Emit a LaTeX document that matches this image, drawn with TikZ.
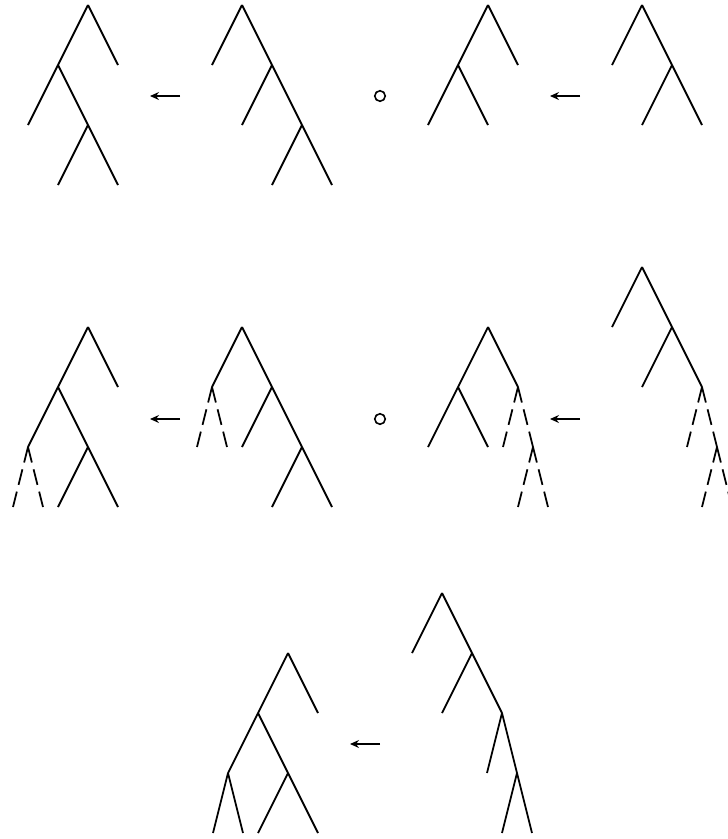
\documentclass[tikz,border=0pt]{standalone}
\usepackage{tikz}
\usetikzlibrary{arrows.meta,positioning}

\begin{document}
\begin{tikzpicture}[
  x=1pt, y=-1pt,
  line width=1.8pt,
  level distance=60pt, sibling distance=60pt,
  narrowchild/.style={sibling distance=30pt},
  dashchild/.style={narrowchild, dash pattern=on 16pt off 7pt},
  arr/.style={-{Stealth[length=9pt,width=8pt,inset=3pt]}, line width=1.6pt},
  comp/.style={draw, circle, minimum size=10.5pt, inner sep=0pt, line width=1.6pt}
]
\useasboundingbox (0,0) rectangle (728,839);

% first row
\coordinate (A) at (88,5)
  child {coordinate
    child {coordinate}
    child {coordinate
      child {coordinate}
      child {coordinate}}}
  child {coordinate};
\coordinate (B) at (242,5)
  child {coordinate}
  child {coordinate
    child {coordinate}
    child {coordinate
      child {coordinate}
      child {coordinate}}};
\coordinate (C) at (488,5)
  child {coordinate
    child {coordinate}
    child {coordinate}}
  child {coordinate};
\coordinate (D) at (642,5)
  child {coordinate}
  child {coordinate
    child {coordinate}
    child {coordinate}};

\coordinate (ra1) at (180,96);
\coordinate (la1) at (150,96);
\coordinate (ra2) at (580,96);
\coordinate (la2) at (550,96);
\draw[arr] (ra1) -- (la1);
\draw[arr] (ra2) -- (la2);
\node[comp] (o1) at (380,96) {};

% second row
\coordinate (E) at (88,327)
  child {coordinate
    child {coordinate
      child[dashchild] {coordinate}
      child[dashchild] {coordinate}}
    child {coordinate
      child {coordinate}
      child {coordinate}}}
  child {coordinate};
\coordinate (F) at (242,327)
  child {coordinate
    child[dashchild] {coordinate}
    child[dashchild] {coordinate}}
  child {coordinate
    child {coordinate}
    child {coordinate
      child {coordinate}
      child {coordinate}}};
\coordinate (G) at (488,327)
  child {coordinate
    child {coordinate}
    child {coordinate}}
  child {coordinate
    child[dashchild] {coordinate}
    child[dashchild] {coordinate
      child[dashchild] {coordinate}
      child[dashchild] {coordinate}}};
\coordinate (H) at (642,267)
  child {coordinate}
  child {coordinate
    child {coordinate}
    child {coordinate
      child[dashchild] {coordinate}
      child[dashchild] {coordinate
        child[dashchild] {coordinate}
        child[dashchild] {coordinate}}}};

\coordinate (rb1) at (180,419);
\coordinate (lb1) at (150,419);
\coordinate (rb2) at (580,419);
\coordinate (lb2) at (550,419);
\draw[arr] (rb1) -- (lb1);
\draw[arr] (rb2) -- (lb2);
\node[comp] (o2) at (380,419) {};

% third row
\coordinate (I) at (288,653)
  child {coordinate
    child {coordinate
      child[narrowchild] {coordinate}
      child[narrowchild] {coordinate}}
    child {coordinate
      child {coordinate}
      child {coordinate}}}
  child {coordinate};
\coordinate (J) at (442,593)
  child {coordinate}
  child {coordinate
    child {coordinate}
    child {coordinate
      child[narrowchild] {coordinate}
      child[narrowchild] {coordinate
        child[narrowchild] {coordinate}
        child[narrowchild] {coordinate}}}};

\coordinate (rc) at (380,744);
\coordinate (lc) at (350,744);
\draw[arr] (rc) -- (lc);

\end{tikzpicture}
\end{document}
